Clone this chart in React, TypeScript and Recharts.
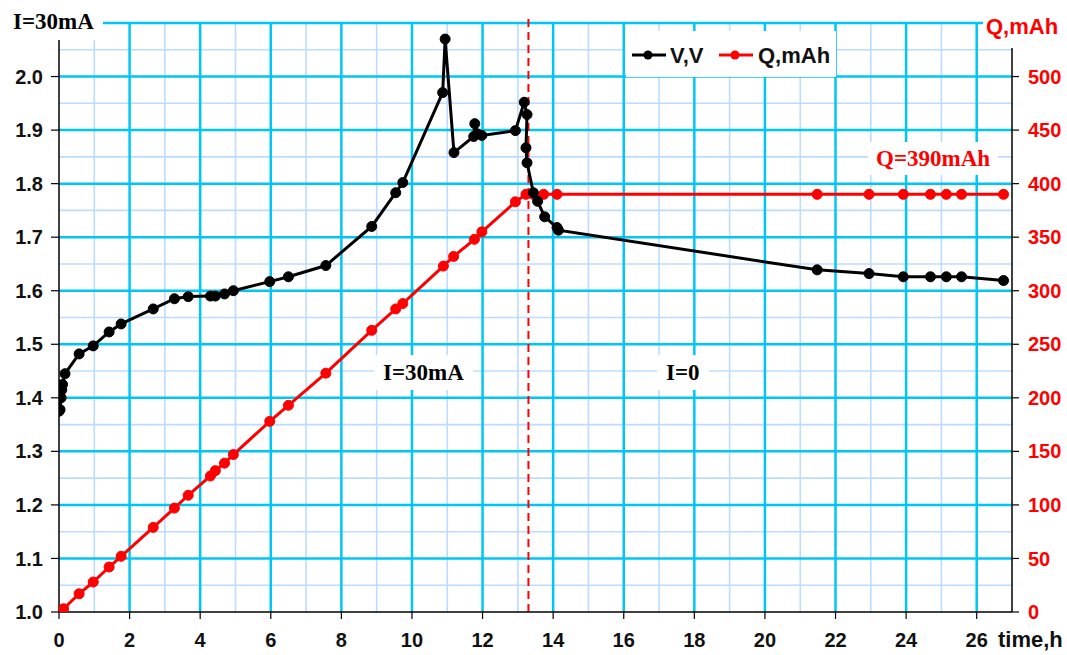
import { LineChart, Line, XAxis, YAxis, ReferenceLine } from 'recharts';

// voltage curve (left axis)
const vTime = [0, 0.03, 0.06, 0.08, 0.1, 0.17, 0.57, 0.97, 1.42, 1.76, 2.67, 3.27, 3.66, 4.29, 4.43, 4.69, 4.94, 5.97, 6.5, 7.56, 8.86, 9.54, 9.74, 10.87, 10.94, 11.19, 11.75, 11.78, 11.85, 11.98, 12.93, 13.18, 13.26, 13.23, 13.26, 13.44, 13.56, 13.76, 14.11, 14.15, 21.48, 22.95, 23.92, 24.69, 25.14, 25.57, 26.76];
const vVolts = [1.375, 1.378, 1.4, 1.415, 1.425, 1.445, 1.482, 1.497, 1.523, 1.538, 1.566, 1.585, 1.589, 1.59, 1.59, 1.594, 1.6, 1.617, 1.626, 1.647, 1.72, 1.783, 1.802, 1.97, 2.07, 1.858, 1.888, 1.912, 1.893, 1.89, 1.899, 1.952, 1.929, 1.867, 1.839, 1.783, 1.767, 1.738, 1.718, 1.713, 1.639, 1.632, 1.626, 1.626, 1.626, 1.626, 1.619];

// charge curve (right axis)
const qTime = [0, 0.04, 0.08, 0.13, 0.57, 0.97, 1.42, 1.76, 2.67, 3.27, 3.66, 4.29, 4.43, 4.69, 4.94, 5.97, 6.5, 7.56, 8.86, 9.54, 9.74, 10.89, 11.18, 11.77, 11.98, 12.93, 13.23, 13.44, 13.73, 14.11, 21.48, 22.95, 23.92, 24.69, 25.14, 25.57, 26.76];
const qCharge = [0, 1, 2, 3, 17, 28, 42, 52, 79, 97, 109, 127, 132, 139, 147, 178, 193, 223, 263, 283, 288, 323, 332, 348, 355, 383, 390, 390, 390, 390, 390, 390, 390, 390, 390, 390, 390];

const timeTicks = [0, 2, 4, 6, 8, 10, 12, 14, 16, 18, 20, 22, 24, 26];
const voltTicks = [1.0, 1.1, 1.2, 1.3, 1.4, 1.5, 1.6, 1.7, 1.8, 1.9, 2.0];
const chargeTicks = [0, 50, 100, 150, 200, 250, 300, 350, 400, 450, 500];

const minorTimeLines = [1, 3, 5, 7, 9, 11, 13, 15, 17, 19, 21, 23, 25];
const majorTimeLines = [2, 4, 6, 8, 10, 12, 14, 16, 18, 20, 22, 24, 26];
const minorVoltLines = [1.05, 1.15, 1.25, 1.35, 1.45, 1.55, 1.65, 1.75, 1.85, 1.95, 2.05];
const majorVoltLines = [1.1, 1.2, 1.3, 1.4, 1.5, 1.6, 1.7, 1.8, 1.9, 2.0, 2.1];

const switchTime = 13.3;

const vData = vTime.map((t, i) => ({ t, v: vVolts[i] }));
const qData = qTime.map((t, i) => ({ t, q: qCharge[i] }));

const MAJOR = '#00C6F6';
const MINOR = '#BCDCFF';
const SANS = '"Liberation Sans", Arial, sans-serif';
const SERIF = '"Liberation Serif", "Times New Roman", serif';

const boxLabel = (left: number, top: number, text: string, color: string, size: number, pad = '6px 9px') => (
  <div
    style={{
      position: 'absolute',
      left,
      top,
      padding: pad,
      background: 'white',
      color,
      fontFamily: SERIF,
      fontWeight: 'bold',
      fontSize: size,
      lineHeight: `${size}px`,
      whiteSpace: 'nowrap',
    }}
  >
    {text}
  </div>
);

export default function App() {
  return (
    <div style={{ position: 'absolute', left: 0, top: 0, width: 1067, height: 655, background: 'white' }}>
      <LineChart width={1067} height={655} margin={{ top: 23, right: 0, bottom: 0, left: 0 }}>
        <XAxis
          xAxisId={0}
          dataKey="t"
          type="number"
          domain={[0, 27]}
          ticks={timeTicks}
          allowDataOverflow
          height={43}
          tickSize={7}
          tickMargin={14}
          axisLine={{ stroke: '#000', strokeWidth: 1.5 }}
          tickLine={{ stroke: '#000', strokeWidth: 1.2 }}
          tick={{ fontSize: 20, fontWeight: 'bold', fill: '#111', fontFamily: SANS }}
        />
        <YAxis
          yAxisId="left"
          orientation="left"
          type="number"
          domain={[1, 2.1]}
          ticks={voltTicks}
          allowDataOverflow
          width={59}
          tickSize={8}
          tickMargin={8}
          tickFormatter={(v: number) => v.toFixed(1)}
          axisLine={{ stroke: '#000', strokeWidth: 1.5 }}
          tickLine={{ stroke: '#000', strokeWidth: 1.2 }}
          tick={{ fontSize: 20, fontWeight: 'bold', fill: '#111', fontFamily: SANS }}
        />
        <YAxis
          yAxisId="right"
          orientation="right"
          type="number"
          domain={[0, 550]}
          ticks={chargeTicks}
          allowDataOverflow
          width={55}
          tickSize={7}
          tickMargin={9}
          axisLine={{ stroke: '#000', strokeWidth: 1.5 }}
          tickLine={{ stroke: '#000', strokeWidth: 1.2 }}
          tick={{ fontSize: 20, fontWeight: 'bold', fill: '#FF0000', fontFamily: SANS }}
        />

        {minorTimeLines.map((x) => (
          <ReferenceLine key={`mx${x}`} yAxisId="left" x={x} stroke={MINOR} strokeWidth={1.6} />
        ))}
        {minorVoltLines.map((y) => (
          <ReferenceLine key={`my${y}`} yAxisId="left" y={y} stroke={MINOR} strokeWidth={1.6} />
        ))}
        {majorTimeLines.map((x) => (
          <ReferenceLine key={`Mx${x}`} yAxisId="left" x={x} stroke={MAJOR} strokeWidth={2.5} />
        ))}
        {majorVoltLines.map((y) => (
          <ReferenceLine key={`My${y}`} yAxisId="left" y={y} stroke={MAJOR} strokeWidth={2.5} />
        ))}

        <ReferenceLine
          yAxisId="left"
          segment={[{ x: switchTime, y: 1 }, { x: switchTime, y: 2.116 }]}
          ifOverflow="visible"
          stroke="#FF0000"
          strokeWidth={2}
          strokeDasharray="8 5"
        />

        <Line
          yAxisId="right"
          data={qData}
          dataKey="q"
          type="linear"
          stroke="#FF0000"
          strokeWidth={3}
          dot={{ r: 5, fill: '#FF0000', stroke: '#FF0000', strokeWidth: 1 }}
          isAnimationActive={false}
        />
        <Line
          yAxisId="left"
          data={vData}
          dataKey="v"
          type="linear"
          stroke="#000"
          strokeWidth={3}
          dot={{ r: 5, fill: '#000', stroke: '#000', strokeWidth: 1 }}
          isAnimationActive={false}
        />
      </LineChart>

      {/* title box top-left */}
      <div style={{ position: 'absolute', left: 0, top: 0, width: 100, height: 40, background: 'white' }} />
      {boxLabel(4, 4, 'I=30mA', '#000', 23, '6px 9px')}

      {/* right axis title */}
      <div style={{ position: 'absolute', left: 983, top: 0, width: 84, height: 48, background: 'white' }} />
      <div style={{ position: 'absolute', left: 986, top: 16, color: '#FF0000', fontFamily: SANS, fontWeight: 'bold', fontSize: 22, lineHeight: '22px' }}>
        Q,mAh
      </div>

      {/* x axis title */}
      <div style={{ position: 'absolute', left: 998, top: 629, color: '#111', fontFamily: SANS, fontWeight: 'bold', fontSize: 22, lineHeight: '22px' }}>
        time,h
      </div>

      {/* legend */}
      <div style={{ position: 'absolute', left: 626, top: 31, width: 210, height: 46, background: 'white' }}>
        <svg width={210} height={46} style={{ position: 'absolute', left: 0, top: 0 }}>
          <line x1={6} y1={24} x2={40} y2={24} stroke="#000" strokeWidth={3} />
          <circle cx={22} cy={24} r={4.5} fill="#000" />
          <line x1={93} y1={24} x2={127} y2={24} stroke="#FF0000" strokeWidth={3} />
          <circle cx={109} cy={24} r={4.5} fill="#FF0000" />
        </svg>
        <div style={{ position: 'absolute', left: 44, top: 14, color: '#111', fontFamily: SANS, fontWeight: 'bold', fontSize: 22, lineHeight: '22px' }}>
          V,V
        </div>
        <div style={{ position: 'absolute', left: 132, top: 14, color: '#111', fontFamily: SANS, fontWeight: 'bold', fontSize: 22, lineHeight: '22px' }}>
          Q,mAh
        </div>
      </div>

      {/* annotations */}
      {boxLabel(374, 355, 'I=30mA', '#000', 23)}
      {boxLabel(657, 355, 'I=0', '#000', 23)}
      {boxLabel(868, 142, 'Q=390mAh', '#FF0000', 23, '5px 8px')}
    </div>
  );
}
